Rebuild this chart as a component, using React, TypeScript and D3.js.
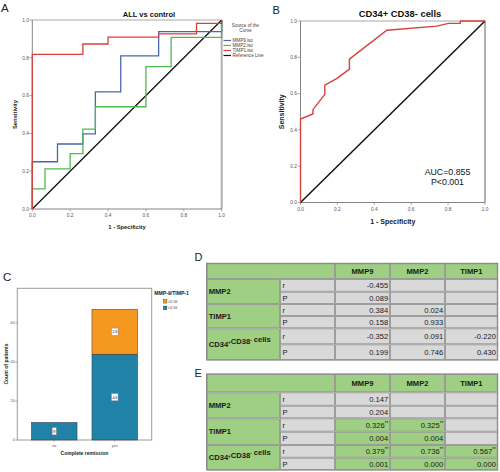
import React from "react";
import * as d3 from "d3";

const FONT = "'Liberation Sans', Arial, Helvetica, sans-serif";

// ---------- Panel A data (ROC, ALL vs control) ----------
const mmp9Fpr = [0, 0, 0.133, 0.133, 0.267, 0.267, 0.333, 0.333, 0.467, 0.467, 0.667, 0.667, 1, 1];
const mmp9Tpr = [0, 0.25, 0.25, 0.344, 0.344, 0.397, 0.397, 0.62, 0.62, 0.81, 0.81, 0.938, 0.938, 1];
const mmp2Fpr = [0, 0, 0.067, 0.067, 0.2, 0.2, 0.267, 0.267, 0.333, 0.333, 0.6, 0.6, 0.733, 0.733, 1, 1];
const mmp2Tpr = [0, 0.106, 0.106, 0.212, 0.212, 0.293, 0.293, 0.423, 0.423, 0.541, 0.541, 0.753, 0.753, 0.908, 0.908, 1];
const timp1Fpr = [0, 0, 0.267, 0.267, 0.4, 0.4, 0.667, 0.667, 0.867, 0.867, 1, 1];
const timp1Tpr = [0, 0.818, 0.818, 0.873, 0.873, 0.909, 0.909, 0.927, 0.927, 0.982, 0.982, 1];
const refLine = [0, 1];
const seriesNamesA = ["MMP9.iso", "MMP2.iso", "TIMP1.iso", "Reference Line"];
const axisTicks = [0, 0.2, 0.4, 0.6, 0.8, 1.0];

// ---------- Panel B data (CD34+ CD38- cells) ----------
const cdFpr = [0, 0, 0.067, 0.068, 0.132, 0.132, 0.198, 0.265, 0.265, 0.468, 0.739, 0.802, 0.865, 0.867, 1];
const cdTpr = [0, 0.46, 0.488, 0.513, 0.596, 0.647, 0.684, 0.735, 0.79, 0.949, 0.972, 0.987, 0.987, 1, 1];
const aucText = ["AUC=0.855", "P<0.001"];

// ---------- Panel C data ----------
const remission = ["no", "yes"];
const lowCounts = [9, 44]; // <0.56 (blue)
const highCounts = [0, 23]; // >0.56 (orange)
const countTicks = [0, 20, 40, 60];
const ratioLegend = [">0.56", "<0.56"];

// ---------- Tables D, E ----------
const tblCols = ["MMP9", "MMP2", "TIMP1"];
const tblRows = ["MMP2", "TIMP1", "CD34⁺CD38⁻ cells"];
const dR = [["-0.455", "", ""], ["0.384", "0.024", ""], ["-0.352", "0.091", "-0.220"]];
const dP = [["0.089", "", ""], ["0.158", "0.933", ""], ["0.199", "0.746", "0.430"]];
const eR = [["0.147", "", ""], ["0.326**", "0.325**", ""], ["0.379**", "0.736**", "0.567**"]];
const eP = [["0.204", "", ""], ["0.004", "0.004", ""], ["0.001", "0.000", "0.000"]];

const BLUE = "#4b66ad";
const GREEN = "#52b852";
const RED = "#d9403a";
const ORANGE = "#f5981f";
const TEAL = "#1f82a6";
const TGREEN = "#9ecf82";
const TGRAY = "#d9d9d9";

function zip(xs: number[], ys: number[]): [number, number][] {
  return xs.map((x, i) => [x, ys[i]]);
}

function RocFrame({ x, y, tick, labelFs, xLabY, yLabX }: any) {
  const [x0, x1] = x.range();
  const [y0, y1] = y.range();
  return (
    <g fontFamily={FONT}>
      <line x1={x0} x2={x1} y1={y1} y2={y1} stroke="#a8a8a8" strokeWidth={1} />
      <line x1={x1} x2={x1} y1={y1} y2={y0} stroke="#b0b0b0" strokeWidth={2} />
      <line x1={x0} x2={x1} y1={y0} y2={y0} stroke="#666" strokeWidth={0.8} />
      <line x1={x0} x2={x0} y1={y1} y2={y0} stroke="#666" strokeWidth={0.8} />
      {axisTicks.map((t) => (
        <g key={"y" + t}>
          <line x1={x0 - 3} x2={x0} y1={y(t)} y2={y(t)} stroke="#777" strokeWidth={0.6} />
          <text x={x0 - 3.5} y={y(t) + 1.7} fontSize={tick} textAnchor="end" fill="#555">
            {d3.format(".1f")(t)}
          </text>
        </g>
      ))}
      {axisTicks.map((t) => (
        <g key={"x" + t}>
          <line x1={x(t)} x2={x(t)} y1={y0} y2={y0 + 2.5} stroke="#777" strokeWidth={0.6} />
          <text x={x(t)} y={y0 + 8} fontSize={tick} textAnchor="middle" fill="#555">
            {d3.format(".1f")(t)}
          </text>
        </g>
      ))}
      <text x={(x0 + x1) / 2} y={xLabY} fontSize={labelFs} fontWeight="bold" textAnchor="middle" fill="#222">
        1 - Specificity
      </text>
      <text
        transform={`translate(${yLabX},${(y0 + y1) / 2}) rotate(-90)`}
        fontSize={labelFs}
        fontWeight="bold"
        textAnchor="middle"
        fill="#222"
      >
        Sensitivity
      </text>
    </g>
  );
}

function supText(s: string, fs: number) {
  const parts: any[] = [];
  let buf = "";
  let k = 0;
  for (const ch of s) {
    if (ch === "⁺" || ch === "⁻") {
      if (buf) parts.push(<tspan key={k++}>{buf}</tspan>);
      buf = "";
      parts.push(
        <tspan key={k++} fontSize={fs * 0.6} dy={-fs * 0.35}>
          {ch === "⁺" ? "+" : "-"}
        </tspan>
      );
      parts.push(<tspan key={k++} dy={fs * 0.35}>{""}</tspan>);
    } else buf += ch;
  }
  if (buf) parts.push(<tspan key={k++}>{buf}</tspan>);
  return parts;
}

function valText(s: string, fs: number) {
  if (s.endsWith("**")) {
    return [
      <tspan key="a">{s.slice(0, -2)}</tspan>,
      <tspan key="b" fontSize={fs * 0.6} dy={-fs * 0.35}>**</tspan>,
    ];
  }
  return s;
}

function Table({ top, colX, headerH, rowHs, R, P }: any) {
  const fs = 7.6;
  const rowsY: number[] = [];
  let yy = top + headerH;
  rowHs.forEach((h: number) => {
    rowsY.push(yy);
    yy += h;
  });
  const cells: any[] = [];
  const cell = (key: string, x: number, y: number, w: number, h: number, fill: string) => (
    <rect key={key} x={x + 0.5} y={y + 0.5} width={w - 1} height={h - 1} fill={fill} stroke="#8a8a8a" strokeWidth={0.8} />
  );
  cells.push(cell("h0", colX[0], top, colX[2] - colX[0], headerH, TGREEN));
  tblCols.forEach((c, j) => {
    cells.push(cell("h" + (j + 1), colX[j + 2], top, colX[j + 3] - colX[j + 2], headerH, TGREEN));
  });
  const texts: any[] = [];
  tblCols.forEach((c, j) => {
    texts.push(
      <text key={"ht" + j} x={(colX[j + 2] + colX[j + 3]) / 2} y={top + headerH / 2 + 2.7} fontSize={fs} fontWeight="bold" textAnchor="middle">
        {c}
      </text>
    );
  });
  tblRows.forEach((rname, i) => {
    const ry = rowsY[2 * i];
    const rh = rowHs[2 * i] + rowHs[2 * i + 1];
    cells.push(cell("rh" + i, colX[0], ry, colX[1] - colX[0], rh, TGREEN));
    texts.push(
      <text key={"rt" + i} x={colX[0] + 2} y={ry + rh / 2 + 2.7} fontSize={fs} fontWeight="bold">
        {supText(rname, fs)}
      </text>
    );
    [R, P].forEach((M: string[][], k: number) => {
      const y = rowsY[2 * i + k];
      const h = rowHs[2 * i + k];
      cells.push(cell(`rp${i}${k}`, colX[1], y, colX[2] - colX[1], h, TGRAY));
      texts.push(
        <text key={`rpt${i}${k}`} x={colX[1] + 2.5} y={y + h / 2 + 2.7} fontSize={fs}>
          {k === 0 ? "r" : "P"}
        </text>
      );
      tblCols.forEach((c, j) => {
        const v = M[i][j];
        const pv = P[i][j];
        const sig = pv !== "" && parseFloat(pv) < 0.05;
        cells.push(cell(`v${i}${k}${j}`, colX[j + 2], y, colX[j + 3] - colX[j + 2], h, sig ? TGREEN : TGRAY));
        if (v !== "")
          texts.push(
            <text key={`vt${i}${k}${j}`} x={colX[j + 3] - 1.8} y={y + h / 2 + 2.7} fontSize={fs} textAnchor="end">
              {valText(v, fs)}
            </text>
          );
      });
    });
  });
  return (
    <g fontFamily={FONT} fill="#1a1a1a">
      <rect x={colX[0]} y={top} width={colX[colX.length - 1] - colX[0]} height={yy - top} fill="#fff" stroke="#6d6d6d" strokeWidth={1} />
      {cells}
      {texts}
    </g>
  );
}

export default function App() {
  const ax = d3.scaleLinear().domain([0, 1]).range([32.3, 221.7]);
  const ay = d3.scaleLinear().domain([0, 1]).range([209, 20]);
  const lineA = d3.line<[number, number]>().x((d) => ax(d[0])).y((d) => ay(d[1]));
  const bx = d3.scaleLinear().domain([0, 1]).range([300.5, 485]);
  const by = d3.scaleLinear().domain([0, 1]).range([202.5, 21]);
  const lineB = d3.line<[number, number]>().x((d) => bx(d[0])).y((d) => by(d[1]));
  const cx = d3.scaleBand<string>().domain(remission).range([17.3, 151.7]).paddingInner(0.247).paddingOuter(0.234);
  const cy = d3.scaleLinear().domain([0, 77.8]).range([440, 288.3]);

  const seriesA = [
    { name: seriesNamesA[0], color: BLUE, pts: zip(mmp9Fpr, mmp9Tpr) },
    { name: seriesNamesA[1], color: GREEN, pts: zip(mmp2Fpr, mmp2Tpr) },
    { name: seriesNamesA[2], color: RED, pts: zip(timp1Fpr, timp1Tpr) },
  ];

  return (
    <div style={{ position: "absolute", left: 0, top: 0 }}>
      <svg width={500} height={472} style={{ display: "block", background: "#fff" }} fontFamily={FONT}>
        <rect width={500} height={472} fill="#fff" />
        <text x={1} y={12} fontSize={11.5} fill="#222">A</text>
        <text x={272.5} y={14} fontSize={11} fill="#222">B</text>
        <text x={3} y={281} fontSize={11.5} fill="#222">C</text>
        <text x={194.5} y={261} fontSize={11} fill="#222">D</text>
        <text x={194.5} y={377} fontSize={11} fill="#222">E</text>

        {/* Panel A */}
        <text x={149} y={17.3} fontSize={7.5} fontWeight="bold" textAnchor="middle" fill="#111">ALL vs control</text>
        <RocFrame x={ax} y={ay} tick={4.8} labelFs={5.8} xLabY={228.5} yLabX={16.5} />
        <path d={lineA(zip(refLine, refLine)) || ""} stroke="#111" strokeWidth={1.3} fill="none" />
        {seriesA.map((s) => (
          <path key={s.name} d={lineA(s.pts) || ""} stroke={s.color} strokeWidth={1.3} fill="none" />
        ))}
        <g fontFamily={FONT} fontSize={4.6} fill="#444">
          <text x={245.5} y={27.3} textAnchor="middle">Source of the</text>
          <text x={245.5} y={32.3} textAnchor="middle">Curve</text>
          {[...seriesA.map((s) => s.color), "#111"].map((c, i) => (
            <g key={i}>
              <line x1={223.5} x2={231} y1={40.5 + i * 5} y2={40.5 + i * 5} stroke={c} strokeWidth={1.2} />
              <text x={232.5} y={42.2 + i * 5}>{seriesNamesA[i]}</text>
            </g>
          ))}
        </g>

        {/* Panel B */}
        <text x={400} y={16.7} fontSize={9.4} fontWeight="bold" textAnchor="middle" fill="#111">CD34+ CD38- cells</text>
        <RocFrame x={bx} y={by} tick={4.8} labelFs={7} xLabY={224} yLabX={284} />
        <path d={lineB(zip(refLine, refLine)) || ""} stroke="#111" strokeWidth={1.5} fill="none" />
        <path d={lineB(zip(cdFpr, cdTpr)) || ""} stroke={RED} strokeWidth={1.4} fill="none" />
        <text x={447.5} y={175.2} fontSize={8.8} textAnchor="middle" fill="#111">{aucText[0]}</text>
        <text x={447.5} y={185.2} fontSize={8.8} textAnchor="middle" fill="#111">{aucText[1]}</text>

        {/* Panel C */}
        <g fontFamily={FONT}>
          <rect x={17.3} y={288.3} width={134.4} height={151.7} fill="none" stroke="#9a9a9a" strokeWidth={1} />
          {countTicks.map((t) => (
            <g key={t}>
              <line x1={15.3} x2={17.3} y1={cy(t)} y2={cy(t)} stroke="#777" strokeWidth={0.5} />
              <text x={14.8} y={cy(t) + 1.3} fontSize={3.8} textAnchor="end" fill="#555">{t}</text>
            </g>
          ))}
          {remission.map((r, i) => {
            const x = cx(r) as number;
            const w = cx.bandwidth();
            return (
              <g key={r}>
                <rect x={x} y={cy(lowCounts[i])} width={w} height={cy(0) - cy(lowCounts[i])} fill={TEAL} stroke="#333" strokeWidth={0.5} />
                {highCounts[i] > 0 && (
                  <rect x={x} y={cy(lowCounts[i] + highCounts[i])} width={w} height={cy(lowCounts[i]) - cy(lowCounts[i] + highCounts[i])} fill={ORANGE} stroke="#333" strokeWidth={0.5} />
                )}
                <line x1={x + w / 2} x2={x + w / 2} y1={440} y2={442} stroke="#777" strokeWidth={0.5} />
                <text x={x + w / 2} y={447.3} fontSize={3.8} textAnchor="middle" fill="#555">{r}</text>
                {[
                  { v: lowCounts[i], yc: cy(lowCounts[i] / 2) },
                  { v: highCounts[i], yc: cy(lowCounts[i] + highCounts[i] / 2) },
                ]
                  .filter((o) => o.v > 0)
                  .map((o, k) => {
                    const bw = String(o.v).length > 1 ? 6.6 : 4.2;
                    return (
                      <g key={k}>
                        <rect x={x + w / 2 - bw / 2} y={o.yc - 3.7} width={bw} height={7.4} fill="#fff" stroke="#888" strokeWidth={0.5} />
                        <text x={x + w / 2} y={o.yc + 1.6} fontSize={4.4} textAnchor="middle" fill="#333">{o.v}</text>
                      </g>
                    );
                  })}
              </g>
            );
          })}
          <text x={84.5} y={455} fontSize={5} fontWeight="bold" textAnchor="middle" fill="#222">Complete remission</text>
          <text transform={`translate(7.6,${364}) rotate(-90)`} fontSize={5} fontWeight="bold" textAnchor="middle" fill="#222">
            Count of patients
          </text>
          <text x={154.3} y={295} fontSize={5.1} fontWeight="bold" fill="#222">MMP-9/TIMP-1</text>
          {[ORANGE, TEAL].map((c, i) => (
            <g key={c}>
              <rect x={163.3} y={299.3 + i * 6.7} width={3.6} height={3.8} fill={c} stroke="#444" strokeWidth={0.4} />
              <text x={167.8} y={302.6 + i * 6.7} fontSize={3.8} fill="#444">{ratioLegend[i]}</text>
            </g>
          ))}
        </g>

        {/* Tables */}
        <Table top={263.3} colX={[206.7, 280, 335, 390, 445, 497.7]} headerH={15.7} rowHs={[12.7, 12.3, 12, 12.3, 16, 15.7]} R={dR} P={dP} />
        <Table top={374} colX={[206.7, 280, 335, 390, 445, 497.7]} headerH={18.3} rowHs={[13.4, 12.6, 13.4, 13.3, 12.7, 12.3]} R={eR} P={eP} />
      </svg>
    </div>
  );
}
